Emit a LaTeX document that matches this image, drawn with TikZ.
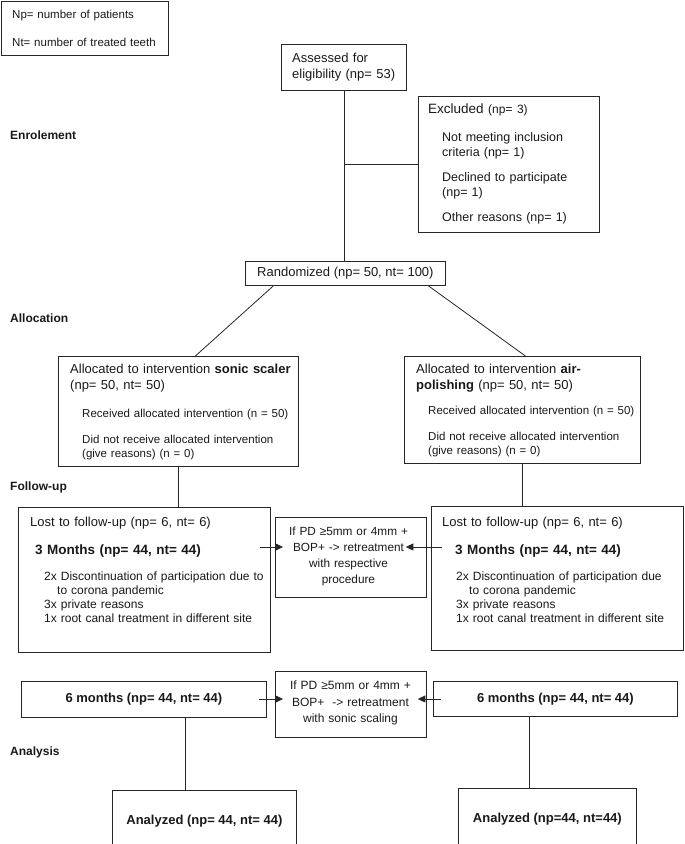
\documentclass[tikz,border=0pt]{standalone}
\usepackage{fontspec}
\setmainfont{Liberation Sans}
\usetikzlibrary{positioning,calc,arrows.meta}

\tikzset{
  box/.style={draw=black!85, line width=0.8pt, anchor=north west, inner sep=0pt},
  txt/.style={anchor=base west, inner sep=0pt, text width=#1, align=left, text=black!90},
  ctr/.style={anchor=base, inner sep=0pt, text width=#1, align=center, text=black!90},
  stage/.style={anchor=west, inner sep=0pt, text=black!90, font=\fontsize{12}{14}\selectfont\bfseries},
  link/.style={draw=black!85, line width=0.8pt},
  arr/.style={draw=black!85, line width=0.8pt, -{Triangle[length=7.5pt,width=7pt]}},
}

\begin{document}
\begin{tikzpicture}[x=1pt,y=-1pt]
  \useasboundingbox (0,0) rectangle (685,844);
  \clip (0,0) rectangle (685,844);

  % Legend
  \node[box, minimum width=167pt, minimum height=54pt] (key) at (0.5,0.5) {};
  \node[txt=160pt, font=\fontsize{11.5}{14}\selectfont] (keyt) at (12,18)
    {Np= number of patients\\[14pt]Nt= number of treated teeth};

  % Stage labels
  \node[stage] (enrol) at (10,135) {Enrolement};
  \node[stage] (alloc) at (10,318) {Allocation};
  \node[stage] (follow) at (10,487) {Follow-up};
  \node[stage] (analys) at (10,752) {Analysis};

  % Enrolment
  \node[box, minimum width=125pt, minimum height=46pt] (assess) at (281,44) {};
  \node[txt=115pt, font=\fontsize{13}{16}\selectfont] (assesst) at (292,62.5)
    {Assessed for\\eligibility (np= 53)};

  \node[box, minimum width=181pt, minimum height=136pt] (excl) at (418,96) {};
  \node[txt=165pt, font=\fontsize{13.5}{15}\selectfont] (exclt) at (428,113)
    {Excluded {\fontsize{12}{15}\selectfont(np= 3)}};
  \node[txt=155pt, font=\fontsize{12.5}{15}\selectfont] (exclit) at (442,141)
    {Not meeting inclusion\\criteria (np= 1)\\[10pt]Declined to participate\\(np= 1)\\[10pt]Other reasons (np= 1)};

  \node[box, minimum width=200pt, minimum height=24pt,
        font=\fontsize{13}{15}\selectfont, text=black!90] (rand) at (245,261)
    {Randomized (np= 50, nt= 100)};

  % Allocation
  \node[box, minimum width=240pt, minimum height=110pt] (allocL) at (58,356) {};
  \node[txt=230pt, font=\fontsize{13}{16}\selectfont] (allocLt) at (70,373.5)
    {Allocated to intervention \textbf{sonic scaler}\\(np= 50, nt= 50)};
  \node[txt=220pt, font=\fontsize{11.5}{13.5}\selectfont] (allocLit) at (82,417)
    {Received allocated intervention (n = 50)\\[13pt]Did not receive allocated intervention\\(give reasons) (n = 0)};

  \node[box, minimum width=236pt, minimum height=107pt] (allocR) at (404,356) {};
  \node[txt=230pt, font=\fontsize{13}{16}\selectfont] (allocRt) at (416,373.5)
    {Allocated to intervention \textbf{air-}\\\textbf{polishing} (np= 50, nt= 50)};
  \node[txt=210pt, font=\fontsize{11.5}{13.5}\selectfont] (allocRit) at (428,414)
    {Received allocated intervention (n = 50)\\[13pt]Did not receive allocated intervention\\(give reasons) (n = 0)};

  % Follow-up
  \node[box, minimum width=252pt, minimum height=145pt] (lostL) at (18,507) {};
  \node[txt=240pt, font=\fontsize{13}{15}\selectfont] (lostLt) at (30,526)
    {Lost to follow-up (np= 6, nt= 6)};
  \node[txt=230pt, font=\fontsize{13.5}{15}\selectfont\bfseries] (threeL) at (35,554)
    {3 Months (np= 44, nt= 44)};
  \node[txt=230pt, font=\fontsize{12}{14}\selectfont] (lostLit) at (44,580)
    {2x Discontinuation of participation due to\\\hspace*{13pt}to corona pandemic\\3x private reasons\\1x root canal treatment in different site};

  \node[box, minimum width=252pt, minimum height=144pt] (lostR) at (431,506) {};
  \node[txt=240pt, font=\fontsize{13}{15}\selectfont] (lostRt) at (442,526)
    {Lost to follow-up (np= 6, nt= 6)};
  \node[txt=225pt, font=\fontsize{13.5}{15}\selectfont\bfseries] (threeR) at (455,554)
    {3 Months (np= 44, nt= 44)};
  \node[txt=225pt, font=\fontsize{12}{14}\selectfont] (lostRit) at (456,580)
    {2x Discontinuation of participation due\\\hspace*{13pt}to corona pandemic\\3x private reasons\\1x root canal treatment in different site};

  \node[box, minimum width=151pt, minimum height=80pt] (mid1) at (275,517) {};
  \node[ctr=150pt, font=\fontsize{11.8}{16}\selectfont] (mid1t) at (348.5,535.5)
    {If PD ≥5mm or 4mm +\\BOP+ -> retreatment\\with respective\\procedure};

  % 6 months
  \node[box, minimum width=245pt, minimum height=36pt,
        font=\fontsize{13}{15}\selectfont\bfseries, text=black!90] (sixL) at (21,681)
    {6 months (np= 44, nt= 44)};
  \node[box, minimum width=244pt, minimum height=35pt,
        font=\fontsize{13}{15}\selectfont\bfseries, text=black!90] (sixR) at (433,681)
    {6 months (np= 44, nt= 44)};

  \node[box, minimum width=151pt, minimum height=66pt] (mid2) at (275,671) {};
  \node[ctr=150pt, font=\fontsize{12}{16.5}\selectfont] (mid2t) at (350.5,689.5)
    {If PD ≥5mm or 4mm +\\BOP+\ \ -> retreatment\\with sonic scaling};

  % Analysis
  \node[box, minimum width=184pt, minimum height=62pt,
        font=\fontsize{13}{15}\selectfont\bfseries, text=black!90] (anaL) at (112,790)
    {Analyzed (np= 44, nt= 44)};
  \node[box, minimum width=178pt, minimum height=62pt,
        font=\fontsize{13}{15}\selectfont\bfseries, text=black!90] (anaR) at (458,788)
    {Analyzed (np=44, nt=44)};

  % Connectors
  \draw[link] (assess.south) -- (assess.south |- rand.north);
  \draw[link] (assess.south |- excl.west) -- (excl.west);
  \draw[link] ($(rand.south)+(-72,0)$) -- ($(allocL.north)+(17,0)$);
  \draw[link] ($(rand.south)+(83,0)$) -- ($(allocR.north)+(3,0)$);
  \draw[link] (allocL.south) -- (allocL.south |- lostL.north);
  \draw[link] (allocR.south) -- (allocR.south |- lostR.north);

  \coordinate (sL) at ($(sixL.south)+(41.5,0)$);
  \coordinate (sR) at ($(sixR.south)+(-26,0)$);
  \draw[link] (sL) -- (sL |- anaL.north);
  \draw[link] (sR) -- (sR |- anaR.north);

  % Arrows into the retreatment boxes
  \coordinate (fL) at (260,547);
  \coordinate (fR) at (442,547);
  \coordinate (gL) at (259,699);
  \coordinate (gR) at (441,699);
  \draw[arr] (fL) -- ($(mid1.west |- fL)+(8,0)$);
  \draw[arr] (fR) -- ($(mid1.east |- fR)+(-21,0)$);
  \draw[arr] (gL) -- ($(mid2.west |- gL)+(8,0)$);
  \draw[arr] (gR) -- ($(mid2.east |- gR)+(-9,0)$);

\end{tikzpicture}
\end{document}
